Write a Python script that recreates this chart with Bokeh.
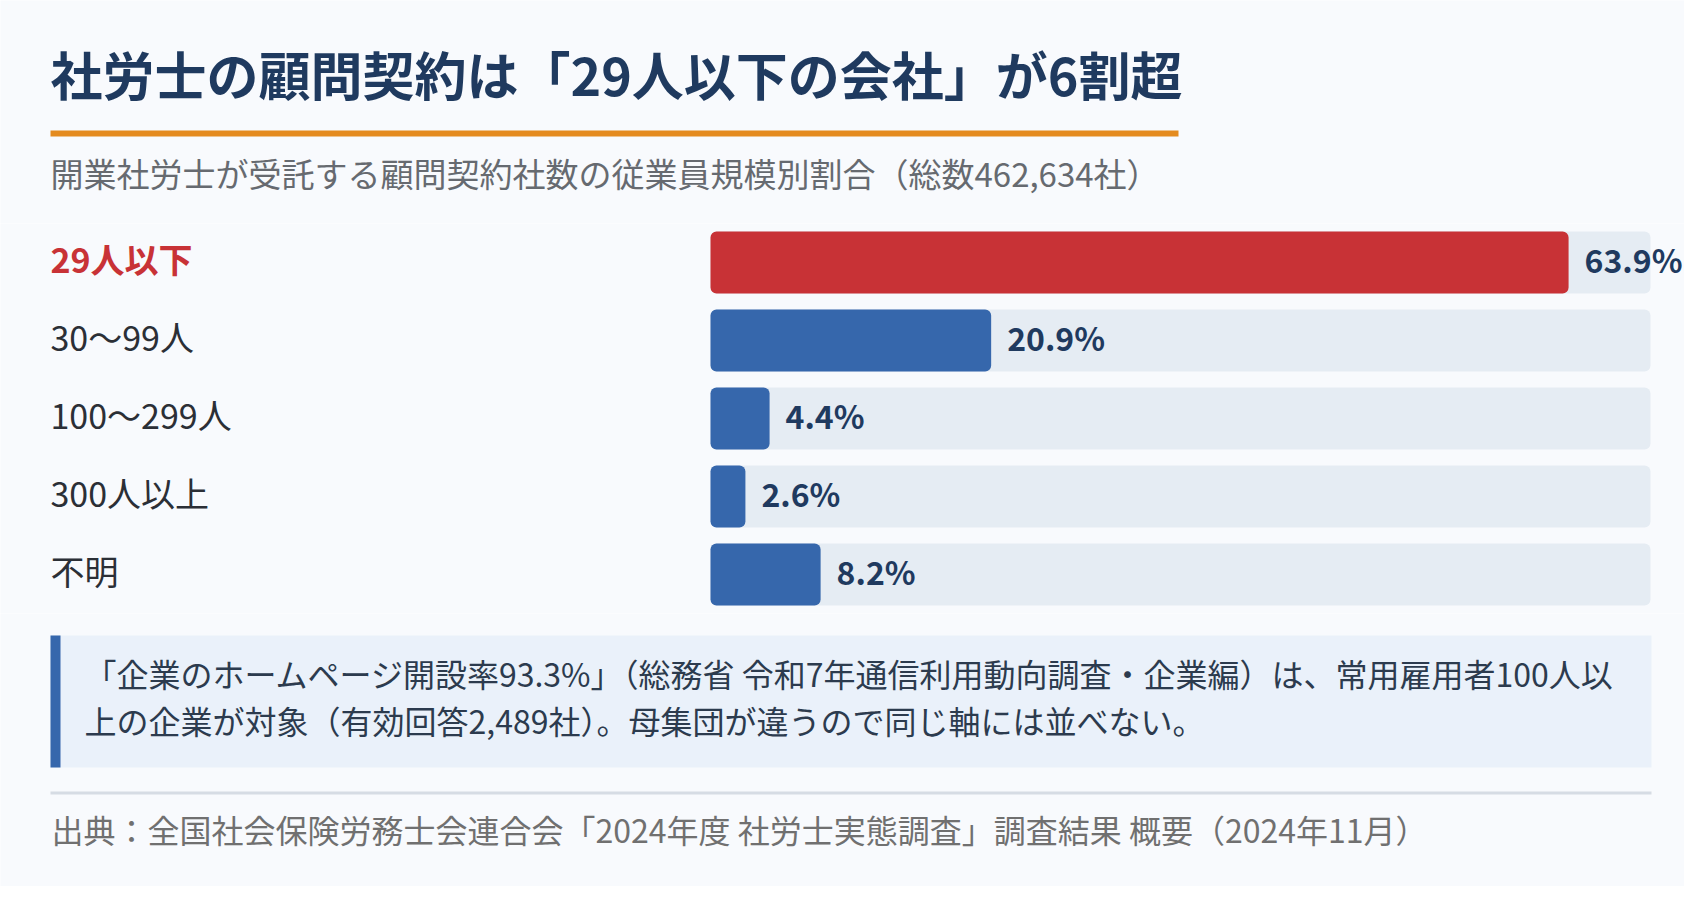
from bokeh.plotting import figure
from bokeh.layouts import column
from bokeh.models import Range1d, FactorRange, ColumnDataSource
from bokeh.core.properties import value
from bokeh.embed import file_html
from bokeh.resources import INLINE

# ---------------- data ----------------
title = "社労士の顧問契約は「29人以下の会社」が6割超"
subtitle = "開業社労士が受託する顧問契約社数の従業員規模別割合（総数462,634社）"
categories = ["29人以下", "30～99人", "100～299人", "300人以上", "不明"]
shares = [63.9, 20.9, 4.4, 2.6, 8.2]
highlight = [True, False, False, False, False]
axis_max = 70
note_lines = [
    "「企業のホームページ開設率93.3%」（総務省 令和7年通信利用動向調査・企業編）は、常用雇用者100人以",
    "上の企業が対象（有効回答2,489社）。母集団が違うので同じ軸には並べない。",
]
source_text = "出典：全国社会保険労務士会連合会「2024年度 社労士実態調査」調査結果 概要（2024年11月）"

# ---------------- style ----------------
W = 1684
FONT = value("Noto Sans CJK JP")
BG = "#F8FAFD"
NAVY = "#1F3A5F"
RED = "#C83236"
BLUE = "#3667AC"
TRACK = "#E5ECF3"
ORANGE = "#E48B1F"
DY = -4  # vertical nudge of text (px)


def base(h, xr=None, yr=None):
    p = figure(width=W, height=h,
               x_range=xr if xr is not None else Range1d(0, W),
               y_range=yr if yr is not None else Range1d(h, 0),
               toolbar_location=None, output_backend="svg", min_border=0,
               x_axis_location=None, y_axis_location=None)
    p.grid.visible = False
    p.outline_line_color = None
    p.background_fill_color = BG
    p.border_fill_color = BG
    return p


# ---------------- header ----------------
HEAD_H = 223
head = base(HEAD_H)
head.text(x=[50], y=[77 + DY], text=[title], text_font=FONT, text_font_size="52px",
          text_font_style="bold", text_color=NAVY, text_baseline="middle", text_align="left")
head.quad(left=[50], right=[1178], top=[130], bottom=[136], fill_color=ORANGE, line_color=None)
head.text(x=[50], y=[176 + DY], text=[subtitle], text_font=FONT, text_font_size="33px",
          text_color="#666A70", text_baseline="middle", text_align="left")

# ---------------- bars ----------------
PLOT_LEFT = 710      # px of 0 %
PLOT_W = 940         # px of axis_max
scale = PLOT_W / axis_max
xr = Range1d(-PLOT_LEFT / scale, (W - PLOT_LEFT) / scale)
yr = FactorRange(factors=list(reversed(categories)))
mid = base(390, xr, yr)

src = ColumnDataSource(dict(
    cat=categories,
    share=shares,
    track=[axis_max] * len(categories),
    color=[RED if h else BLUE for h in highlight],
    label=[f"{v:.1f}%" for v in shares],
))
bh = 62 / 78
mid.hbar(y="cat", left=0, right="track", height=bh, source=src,
         fill_color=TRACK, line_color=None, border_radius=6)
mid.hbar(y="cat", left=0, right="share", height=bh, source=src,
         fill_color="color", line_color=None, border_radius=6)
mid.text(x="share", y="cat", text="label", source=src, x_offset=16, y_offset=DY,
         text_font=FONT, text_font_size="32px", text_font_style="bold",
         text_color=NAVY, text_baseline="middle", text_align="left")

hi = ColumnDataSource(dict(cat=[c for c, h in zip(categories, highlight) if h]))
lo = ColumnDataSource(dict(cat=[c for c, h in zip(categories, highlight) if not h]))
mid.text(x=0, y="cat", text="cat", source=hi, x_offset=-660, y_offset=DY,
         text_font=FONT, text_font_size="34px", text_font_style="bold",
         text_color=RED, text_baseline="middle", text_align="left")
mid.text(x=0, y="cat", text="cat", source=lo, x_offset=-660, y_offset=DY,
         text_font=FONT, text_font_size="34px",
         text_color="#2B2F36", text_baseline="middle", text_align="left")

# ---------------- footer ----------------
foot = base(886 - HEAD_H - 390)
foot.quad(left=[50], right=[1651], top=[22], bottom=[154], fill_color="#EAF1FA", line_color=None)
foot.quad(left=[50], right=[60], top=[22], bottom=[154], fill_color=BLUE, line_color=None)
foot.text(x=[84, 84], y=[63.5 + DY, 110.5 + DY], text=note_lines, text_font=FONT, text_font_size="32px",
          text_color="#2C3B4E", text_baseline="middle", text_align="left")
foot.quad(left=[50], right=[1651], top=[178], bottom=[181], fill_color="#D6DCE4", line_color=None)
foot.text(x=[51], y=[219.5 + DY], text=[source_text], text_font=FONT, text_font_size="32px",
          text_color="#707070", text_baseline="middle", text_align="left")

layout = column(head, mid, foot, spacing=0)
open("out.html", "w").write(file_html(layout, INLINE))
